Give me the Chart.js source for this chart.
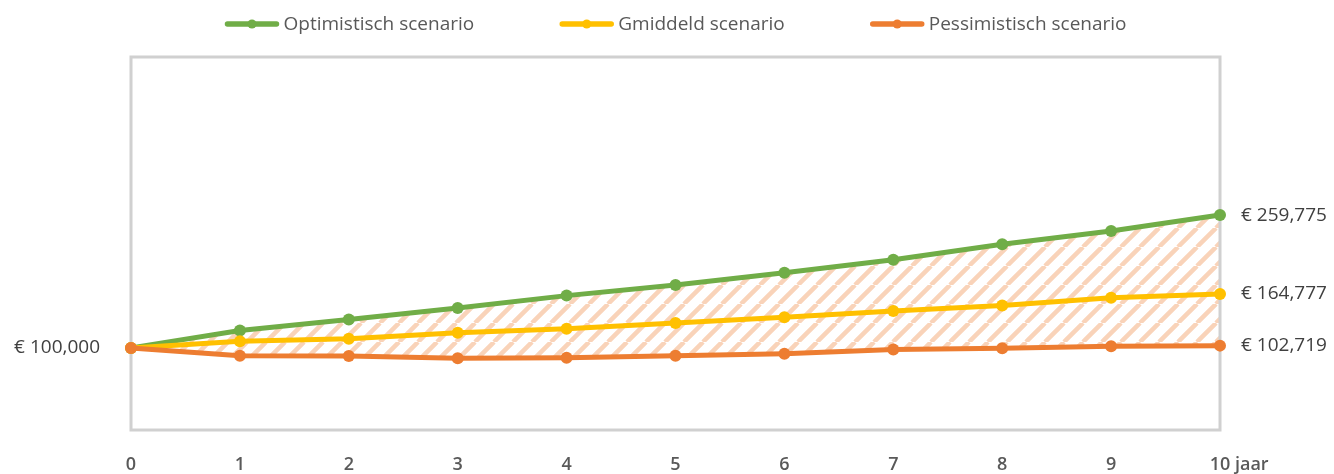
<!DOCTYPE html>
<html>
<head>
<meta charset="utf-8">
<script src="https://cdn.jsdelivr.net/npm/chart.js@4.4.1/dist/chart.umd.min.js"></script>
<style>
  html, body { margin: 0; padding: 0; background: #fff; }
  #wrap { width: 1334px; height: 474px; }
</style>
</head>
<body>
<div id="wrap"><canvas id="scenario-chart"></canvas></div>
<script>
// years on the x axis, last one gets the unit behind it
const years = ['0', '1', '2', '3', '4', '5', '6', '7', '8', '9', '10'];
const yearUnit = 'jaar';

const optimistic  = [100000, 121000, 134200, 148000, 162900, 175700, 190500, 206000, 224700, 240600, 259775];
const average     = [100000, 107900, 111100, 118300, 123100, 129900, 136800, 144300, 151000, 160200, 164777];
const pessimistic = [100000,  90400,  90300,  87600,  88000,  90400,  92900,  98000,  99500, 101900, 102719];

const seriesNames  = ['Optimistisch scenario', 'Gmiddeld scenario', 'Pessimistisch scenario'];
const seriesColors = ['#70ad47', '#ffc000', '#ed7d31'];
const hatchColor = '#f9d3b9';

const FONT = '"Open Sans", "DejaVu Sans", sans-serif';

function euro(v) {
  return '\u20ac ' + v.toLocaleString('en-US');
}

// diagonal hatch for the band between best and worst case
function stripes(color) {
  const size = 19;
  const c = document.createElement('canvas');
  c.width = size;
  c.height = size;
  const g = c.getContext('2d');
  g.strokeStyle = color;
  g.lineWidth = 4.5;
  g.beginPath();
  for (let k = -1; k <= 1; k++) {
    g.moveTo(k * size, size);
    g.lineTo(k * size + size, 0);
  }
  g.stroke();
  return g.createPattern(c, 'repeat');
}

const plotFrame = {
  id: 'plotFrame',
  beforeDatasetsDraw(chart) {
    const {ctx, chartArea: a} = chart;
    ctx.save();
    ctx.strokeStyle = '#d0d0d0';
    ctx.lineWidth = 3;
    ctx.strokeRect(a.left, a.top, a.right - a.left, a.bottom - a.top - 1);
    ctx.restore();
  }
};

const endLabels = {
  id: 'endLabels',
  afterDatasetsDraw(chart) {
    const ctx = chart.ctx;
    ctx.save();
    ctx.font = '19px ' + FONT;
    ctx.fillStyle = '#404040';
    ctx.textBaseline = 'middle';
    chart.data.datasets.forEach((ds, i) => {
      const pts = chart.getDatasetMeta(i).data;
      const last = pts[pts.length - 1];
      ctx.textAlign = 'left';
      ctx.fillText(euro(ds.data[ds.data.length - 1]), last.x + 21, last.y);
      if (i === 0) {
        ctx.textAlign = 'right';
        ctx.fillText(euro(ds.data[0]), pts[0].x - 31, pts[0].y);
      }
    });
    ctx.restore();
  }
};

const unitLabel = {
  id: 'unitLabel',
  afterDraw(chart) {
    const ctx = chart.ctx;
    const x = chart.scales.x;
    const t = x.options.ticks;
    const px = x.getPixelForValue(years.length - 1);
    ctx.save();
    ctx.font = t.font.weight + ' ' + t.font.size + 'px ' + FONT;
    ctx.fillStyle = t.color;
    ctx.textBaseline = 'middle';
    ctx.textAlign = 'left';
    const w = ctx.measureText(years[years.length - 1]).width;
    const sp = ctx.measureText(' ').width;
    ctx.fillText(yearUnit, px + w / 2 + sp, x.top + t.padding + t.font.size / 2);
    ctx.restore();
  }
};

const topLegend = {
  id: 'topLegend',
  afterDraw(chart) {
    const {ctx, chartArea: a} = chart;
    const y = 24, lineW = 55, gapText = 4, gapItem = 85;
    ctx.save();
    ctx.font = '19px ' + FONT;
    ctx.textBaseline = 'middle';
    ctx.textAlign = 'left';
    const widths = seriesNames.map(n => ctx.measureText(n).width);
    const total = widths.reduce((s, w) => s + lineW + gapText + w, 0) + gapItem * (seriesNames.length - 1);
    let x = (a.left + a.right) / 2 - total / 2;
    seriesNames.forEach((name, i) => {
      ctx.strokeStyle = seriesColors[i];
      ctx.fillStyle = seriesColors[i];
      ctx.lineWidth = 5.5;
      ctx.lineCap = 'round';
      ctx.beginPath();
      ctx.moveTo(x + 3, y);
      ctx.lineTo(x + lineW - 3, y);
      ctx.stroke();
      ctx.beginPath();
      ctx.arc(x + lineW / 2, y, 4.5, 0, Math.PI * 2);
      ctx.fill();
      ctx.fillStyle = '#595959';
      ctx.fillText(name, x + lineW + gapText, y + 1);
      x += lineW + gapText + widths[i] + gapItem;
    });
    ctx.restore();
  }
};

function series(i, data, extra) {
  return Object.assign({
    label: seriesNames[i],
    data: data,
    borderColor: seriesColors[i],
    pointBackgroundColor: seriesColors[i],
    pointBorderColor: seriesColors[i],
    borderWidth: 5,
    pointRadius: 6,
    pointBorderWidth: 0,
    tension: 0,
    fill: false
  }, extra);
}

const chart = new Chart(document.getElementById('scenario-chart'), {
  type: 'line',
  data: {
    labels: years,
    datasets: [
      series(0, optimistic, { backgroundColor: stripes(hatchColor), fill: { target: 2 }, order: 2 }),
      series(1, average, { order: 1 }),
      series(2, pessimistic, { order: 0 })
    ]
  },
  options: {
    responsive: true,
    maintainAspectRatio: false,
    animation: false,
    layout: { padding: { left: 131, right: 114, top: 57, bottom: 0 } },
    plugins: {
      legend: { display: false },
      tooltip: { enabled: false },
      filler: { drawTime: 'beforeDatasetsDraw' }
    },
    scales: {
      x: {
        offset: false,
        grid: { display: false, drawTicks: false },
        border: { display: false },
        afterFit(scale) { scale.height = 43; },
        ticks: {
          color: '#595959',
          padding: 25,
          maxRotation: 0,
          autoSkip: false,
          font: { family: FONT, size: 18, weight: 600, lineHeight: 1 }
        }
      },
      y: {
        display: false,
        min: 0,
        max: 450000
      }
    }
  },
  plugins: [plotFrame, endLabels, unitLabel, topLegend]
});
</script>
</body>
</html>
